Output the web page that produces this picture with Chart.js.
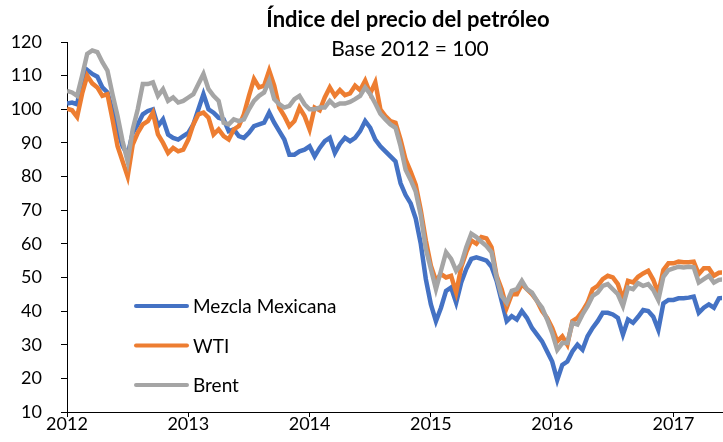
<!DOCTYPE html>
<html>
<head>
<meta charset="utf-8">
<script src="https://cdn.jsdelivr.net/npm/chart.js@4/dist/chart.umd.min.js"></script>
<style>
  html, body { margin: 0; padding: 0; background: #fff; }
  #wrap { width: 723px; height: 442px; }
</style>
</head>
<body>
<div id="wrap"><canvas id="chartPetroleo" width="723" height="442"></canvas></div>
<script>
const titulo = 'Índice del precio del petróleo';
const subtitulo = 'Base 2012 = 100';
const series = ['Mezcla Mexicana', 'WTI', 'Brent'];
const colores = ['#4472C4', '#ED7D31', '#A5A5A5'];
const anios = [2012, 2013, 2014, 2015, 2016, 2017];

// fechas quincenales desde enero 2012
const fechas = Array.from({ length: 131 }, (_, i) => 2012 + i / 24);

const mezcla = [
  101.7, 102, 101.5, 108.7, 111.7, 110.5, 109.7, 106.5, 105, 99.5, 94, 89, 86.5, 93, 95.5, 98.5, 99.5, 100, 95, 97, 92.5, 91.5, 91, 92,
  93, 95.5, 100, 104.5, 100, 99, 97.5, 97, 93.5, 94, 92, 91.5, 93, 95, 95.5, 96, 99, 96, 93.5, 91, 86.5, 86.5, 87.5, 88,
  89, 86, 88.5, 90.5, 91.5, 87, 89.7, 91.5, 90.5, 91.5, 93.5, 96.5, 94.5, 91, 89, 87.5, 86, 84.5, 78, 74.5, 72, 67.5, 60, 49.5,
  42, 37, 41, 46, 47, 42.5, 48.5, 52.5, 55.5, 56, 55.5, 55, 53.2, 49, 43, 37, 38.5, 37.5, 40, 38, 35, 33, 31, 28,
  25, 19.5, 24, 25, 28, 30, 28.5, 32.5, 35, 37, 39.5, 39.5, 39, 38, 33, 37.5, 36.5, 38.3, 40.3, 40, 38.3, 34.4, 42.3, 43.3,
  43.3, 43.8, 43.8, 44, 44.3, 39.5, 41, 42, 41, 43.8, 44
];
const wti = [
  100.2, 99.7, 97.7, 104.7, 110, 107.7, 106.5, 104, 104.5, 97, 89, 84.5, 80, 89.5, 93, 95.5, 96.5, 99, 92.5, 90, 87, 88.5, 87.5, 88,
  91, 95.5, 98.5, 99, 97.5, 92.5, 94, 92, 91, 94, 95, 98.5, 104, 109, 106.5, 107, 111.5, 107, 100.5, 98, 95, 96.5, 100.5, 98,
  94, 100.5, 99.7, 103.5, 106.5, 104, 105.7, 104.2, 104.7, 107, 105.7, 108.5, 104.7, 108, 100, 98, 96.5, 96, 91, 85, 81.5, 77.5, 70, 61,
  53.5, 49, 51, 50, 50.5, 45.5, 53, 57.5, 61, 60, 62, 61.6, 59, 50.5, 46.5, 41, 45, 45, 48, 46.5, 45, 43, 40, 38,
  35, 31, 32.5, 30, 37, 38, 40, 42.5, 46.5, 47.5, 49.5, 50.5, 50, 48, 43.5, 49, 48.5, 50.2, 51.2, 52, 49.3, 45.3, 52.2, 54.2,
  54.2, 54.7, 54.5, 54.5, 54.7, 51, 52.7, 52.7, 50.5, 51.4, 51.5
];
const brent = [
  105.5, 105, 104, 110, 116.5, 117.5, 117, 114, 111.5, 104.5, 98, 90.5, 84.5, 94, 100, 107.5, 107.5, 108, 104, 106, 102.5, 103.5, 102, 102.5,
  103.5, 104.5, 107.5, 110.5, 106, 104, 102.5, 96, 95.5, 97, 96.5, 97, 100, 102.5, 104, 105, 108.5, 103, 101.5, 100.5, 101, 103, 104, 101.5,
  100, 100, 100.5, 100.5, 102.5, 101, 101.7, 101.7, 102.2, 103, 104, 106.5, 104.5, 101.7, 98.7, 97, 95.5, 94.5, 89, 82, 79, 75.5, 68.5, 58.5,
  52.5, 46.5, 52, 57.5, 55.5, 52, 54, 59, 63, 62, 60.6, 59.3, 57.5, 50, 44.5, 42.5, 46, 46.5, 49, 46.5, 45.5, 43, 41, 37.5,
  33.5, 28.5, 30.5, 30.5, 36.5, 36, 39, 41.5, 44.5, 45.5, 47.5, 48, 46.5, 45, 41.5, 47, 46.5, 48.3, 47.5, 48, 46.3, 43.3, 50.2, 52.2,
  52.7, 53.2, 53, 53.2, 53, 48.5, 49.5, 50.5, 48.5, 49.3, 49.5
];

const fuente = 'Lato, "Open Sans", sans-serif';
const valores = [mezcla, wti, brent];

const tituloPlugin = {
  id: 'tituloPlugin',
  afterDraw(chart) {
    const { ctx } = chart;
    ctx.save();
    ctx.fillStyle = '#000';
    ctx.textAlign = 'center';
    ctx.textBaseline = 'middle';
    ctx.font = `bold 22px ${fuente}`;
    ctx.fillText(titulo, 408, 20);
    ctx.font = `21px ${fuente}`;
    ctx.fillText(subtitulo, 410, 49);
    ctx.restore();
  }
};

const leyendaPlugin = {
  id: 'leyendaPlugin',
  afterDraw(chart) {
    const { ctx } = chart;
    ctx.save();
    ctx.textBaseline = 'middle';
    ctx.textAlign = 'left';
    ctx.font = `19px ${fuente}`;
    chart.data.datasets.forEach((ds, k) => {
      const y = 306 + k * 39.5;
      ctx.strokeStyle = ds.borderColor;
      ctx.lineWidth = 4;
      ctx.lineCap = 'round';
      ctx.beginPath();
      ctx.moveTo(136, y);
      ctx.lineTo(187, y);
      ctx.stroke();
      ctx.fillStyle = '#000';
      ctx.fillText(ds.label, 193, y + 1);
    });
    ctx.restore();
  }
};

const ctx = document.getElementById('chartPetroleo');
new Chart(ctx, {
  type: 'line',
  data: {
    datasets: series.map((nombre, k) => ({
      label: nombre,
      data: fechas.map((f, i) => ({ x: f, y: valores[k][i] })),
      borderColor: colores[k],
      backgroundColor: colores[k],
      borderWidth: 4.5,
      pointRadius: 0,
      tension: 0,
      order: 3 - k
    }))
  },
  options: {
    responsive: false,
    animation: false,
    layout: { padding: { top: 42, right: 1, left: 0, bottom: 0 } },
    plugins: {
      legend: { display: false },
      tooltip: { enabled: false }
    },
    scales: {
      x: {
        type: 'linear',
        min: 2012,
        max: 2017.4,
        afterBuildTicks: scale => { scale.ticks = anios.map(v => ({ value: v })); },
        afterFit: scale => { scale.height = 30; },
        grid: { drawOnChartArea: false, tickLength: 5, color: '#000' },
        border: { color: '#000', width: 1 },
        ticks: { color: '#000', padding: -4, maxRotation: 0, font: { family: fuente, size: 18 }, callback: v => String(v) }
      },
      y: {
        min: 10,
        max: 120,
        afterFit: scale => { scale.width = 67; },
        grid: { drawOnChartArea: false, tickLength: 6, color: '#000' },
        border: { color: '#000', width: 1 },
        ticks: { stepSize: 10, color: '#000', padding: 19, font: { family: fuente, size: 18 } }
      }
    }
  },
  plugins: [tituloPlugin, leyendaPlugin]
});
</script>
</body>
</html>
